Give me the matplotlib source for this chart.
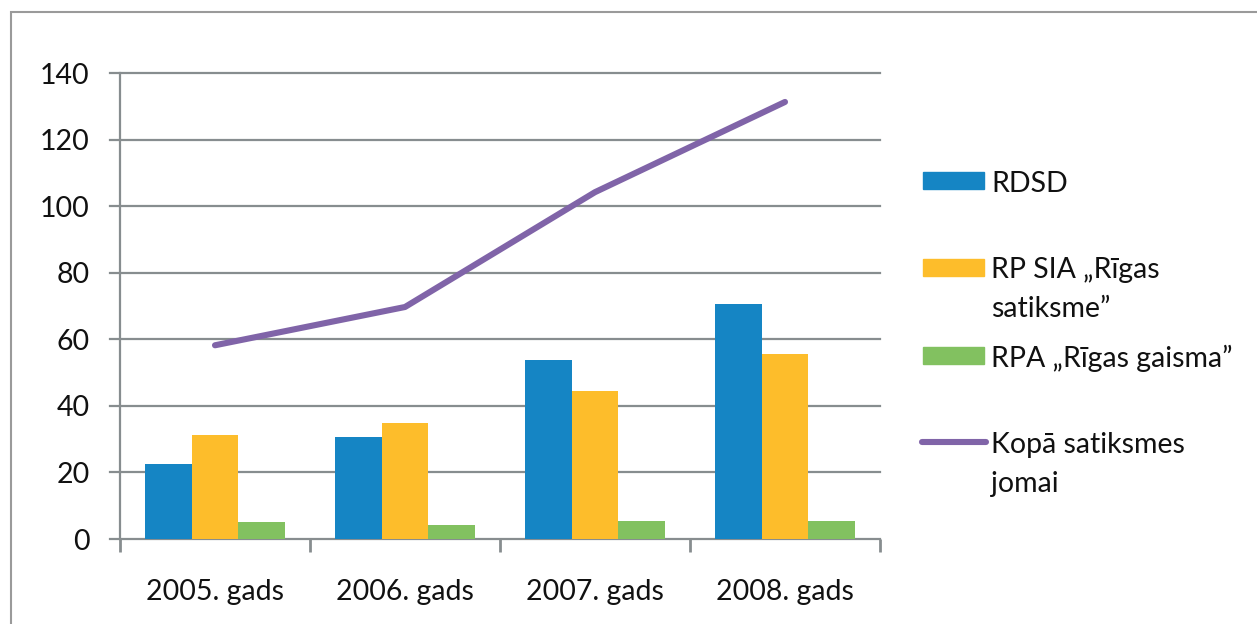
import matplotlib.pyplot as plt
import numpy as np
from matplotlib.patches import Rectangle
from matplotlib.lines import Line2D

plt.rcParams['font.family'] = ['Lato', 'DejaVu Sans']

# === Data ===
years = ["2005. gads", "2006. gads", "2007. gads", "2008. gads"]
rdsd = [22.5, 30.7, 53.7, 70.6]
rp_sia = [31.2, 34.9, 44.5, 55.5]
rpa = [5.0, 4.2, 5.5, 5.5]
total = [58.2, 69.7, 104.2, 131.3]

labels = ["RDSD", "RP SIA \u201eRīgas\nsatiksme\u201d", "RPA \u201eRīgas gaisma\u201d",
          "Kopā satiksmes\njomai"]
colors = ["#1585C4", "#FDBD2B", "#82C160", "#8064A8"]
grid_col = "#878D8F"
txt_col = "#111111"
fs = 20.5

# === Plot ===
fig = plt.figure(figsize=(12.57, 6.24), dpi=100)
ax = fig.add_axes([120 / 1257, 1 - 539 / 624, 760 / 1257, 466 / 624])

x = np.arange(len(years))
w = 0.247
ax.bar(x - w, rdsd, w, color=colors[0], zorder=3)
ax.bar(x, rp_sia, w, color=colors[1], zorder=3)
ax.bar(x + w, rpa, w, color=colors[2], zorder=3)
ax.plot(x, total, color=colors[3], lw=4.4, solid_capstyle="round",
        solid_joinstyle="round", zorder=4)

ax.set_xlim(-0.5, 3.5)
ax.set_ylim(0, 140)
ax.set_yticks(range(0, 141, 20))
ax.set_xticks(x)
ax.set_xticklabels(years, fontsize=fs, color=txt_col)
ax.tick_params(axis="x", length=0, pad=29)
ax.tick_params(axis="y", labelsize=fs, labelcolor=txt_col, length=0, pad=22)

# category separators below the axis
ax.set_xticks(np.arange(-0.5, 4.0, 1.0), minor=True)
ax.tick_params(axis="x", which="minor", length=9, width=2, color=grid_col,
               direction="out")

for v in range(0, 141, 20):
    ax.plot([-0.555, 3.5], [v, v], color=grid_col, lw=1.6, zorder=2,
            clip_on=False)

for s in ["top", "right", "bottom"]:
    ax.spines[s].set_visible(False)
ax.spines["left"].set_color(grid_col)
ax.spines["left"].set_linewidth(1.6)

# === Legend ===
ys = [180.5, 267, 355, 442]
for i, (lab, c, yc) in enumerate(zip(labels, colors, ys)):
    yf = 1 - yc / 624
    if i < 3:
        fig.add_artist(Rectangle((923 / 1257, yf - 8.5 / 624), 61 / 1257, 17 / 624,
                                 transform=fig.transFigure, color=c))
    else:
        fig.add_artist(Line2D([922 / 1257, 986 / 1257], [yf, yf], color=c, lw=4.4,
                              solid_capstyle="round", transform=fig.transFigure))
    fig.text(991 / 1257, yf + 10 / 624, lab, fontsize=fs, color=txt_col,
             va="top", ha="left", linespacing=1.6)

# outer frame
fig.add_artist(Rectangle((11 / 1257, -0.1), 2, 1.1 - 12 / 624, transform=fig.transFigure,
                         fill=False, edgecolor="#9a9a9a", lw=1.5))

fig.savefig("out.png", dpi=100)
